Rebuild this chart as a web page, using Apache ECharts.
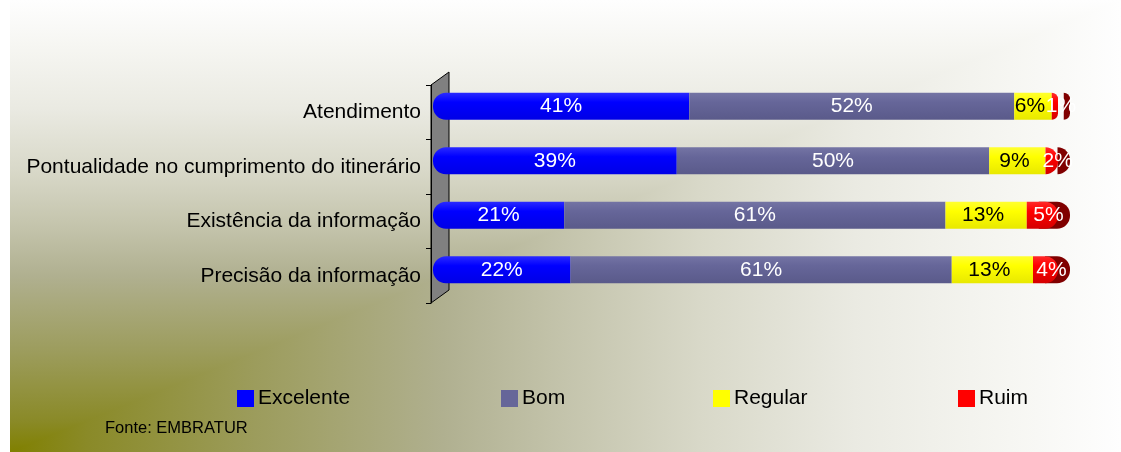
<!DOCTYPE html>
<html>
<head>
<meta charset="utf-8">
<script src="https://cdn.jsdelivr.net/npm/echarts@6/dist/echarts.min.js"></script>
<style>
  html, body { margin: 0; padding: 0; background: #fff; }
  #chart { width: 1121px; height: 452px; }
</style>
</head>
<body>
<div id="chart"></div>
<script>
// dados (%)
var categorias = ['Atendimento', 'Pontualidade no cumprimento do itinerário', 'Existência da informação', 'Precisão da informação'];
var excelente = [41, 39, 21, 22];
var bom = [52, 50, 61, 61];
var regular = [6, 9, 13, 13];
var ruim = [1, 2, 5, 4];

var fontFamily = '"Liberation Sans", Arial, sans-serif';
var W = 1121, H = 452;

// degradê "a partir do canto" (oliva -> branco)
var stops = [
  { offset: 0, color: '#808000' },
  { offset: 0.07, color: '#8a8a28' },
  { offset: 0.22, color: '#9c9c5c' },
  { offset: 0.34, color: '#aaaa80' },
  { offset: 0.39, color: '#b0b090' },
  { offset: 0.5, color: '#c4c4ac' },
  { offset: 0.62, color: '#d8d8c8' },
  { offset: 0.76, color: '#eaeae2' },
  { offset: 0.9, color: '#f6f6f2' },
  { offset: 1, color: '#fefefe' }
];

function vgrad(top, mid, bottom) {
  return new echarts.graphic.LinearGradient(0, 0, 0, 1, [
    { offset: 0, color: top },
    { offset: 0.35, color: mid },
    { offset: 1, color: bottom }
  ]);
}

var chart = echarts.init(document.getElementById('chart'));

function serie(name, data, itemStyle, labelColor, labelOffset) {
  return {
    name: name,
    type: 'bar',
    stack: 'total',
    xAxisIndex: 0,
    yAxisIndex: 0,
    barWidth: 27,
    data: data,
    itemStyle: itemStyle,
    label: {
      show: true,
      position: ['50%', '50%'],
      align: 'center',
      verticalAlign: 'middle',
      offset: labelOffset,
      formatter: '{c}%',
      color: labelColor,
      fontSize: 21,
      fontFamily: fontFamily
    },
    emphasis: { disabled: true },
    silent: true,
    animation: false
  };
}

function legenda(name, color, left) {
  return {
    data: [{ name: name, itemStyle: { color: color } }],
    left: left,
    top: 383,
    icon: 'rect',
    itemWidth: 17,
    itemHeight: 17,
    itemGap: 0,
    selectedMode: false,
    textStyle: { color: '#000', fontSize: 21, fontFamily: fontFamily, padding: [0, 0, 0, -1] }
  };
}

var option = {
  animation: false,
  grid: [
    { left: 433, right: 63, top: 79, height: 218 },
    { left: 431, right: 63, top: 85, height: 218 }
  ],
  xAxis: [
    { type: 'value', gridIndex: 0, min: 0, max: 100, show: false },
    { type: 'value', gridIndex: 1, min: 0, max: 100, show: false }
  ],
  yAxis: [
    { type: 'category', gridIndex: 0, inverse: true, data: categorias, show: false },
    {
      type: 'category', gridIndex: 1, inverse: true, data: categorias,
      axisLine: { show: true, lineStyle: { color: '#000', width: 1 } },
      axisTick: { show: true, length: 5, lineStyle: { color: '#000' } },
      axisLabel: { color: '#000', fontSize: 21, fontFamily: fontFamily, margin: 10 },
      splitLine: { show: false }
    }
  ],
  legend: [
    legenda('Excelente', '#0000ff', 232),
    legenda('Bom', '#666699', 496),
    legenda('Regular', '#ffff00', 708),
    legenda('Ruim', '#ff0000', 953)
  ],
  graphic: [
    {
      type: 'rect', z: -100, silent: true,
      shape: { x: 10, y: 0, width: W - 10, height: H },
      style: { fill: new echarts.graphic.LinearGradient(0, 0, 1, 0, stops) }
    },
    {
      type: 'polygon', z: -99, silent: true,
      shape: { points: [[10, H], [10, 0], [W, 0]] },
      style: { fill: new echarts.graphic.LinearGradient(0, 1, 0, 0, stops) }
    },
    {
      // parede lateral 3D
      type: 'polygon', z: -50, silent: true,
      shape: { points: [[431, 85], [449, 72], [449, 290], [431, 303]] },
      style: { fill: '#808080', stroke: '#000', lineWidth: 1 }
    },
    {
      type: 'text', left: 105, top: 420, silent: true,
      style: { text: 'Fonte: EMBRATUR', fill: '#000', fontSize: 16.5, fontFamily: fontFamily }
    }
  ],
  series: [
    serie('Excelente', excelente,
      { color: vgrad('#2a2aff', '#0000ff', '#0000e6'), borderRadius: [13, 0, 0, 13] }, '#fff', [0, 0]),
    serie('Bom', bom,
      { color: vgrad('#7474a4', '#666699', '#5a5a8a') }, '#fff', [0, 0]),
    serie('Regular', regular,
      { color: vgrad('#ffff30', '#ffff00', '#e8e800') }, '#000', [-3, 0]),
    serie('Ruim', ruim,
      { color: vgrad('#ff2a2a', '#ff0000', '#d40000'), borderRadius: [0, 13, 13, 0],
        shadowColor: '#800000', shadowOffsetX: 12, shadowOffsetY: 0, shadowBlur: 0 }, '#fff', [6, 0])
  ]
};

chart.setOption(option);
</script>
</body>
</html>
